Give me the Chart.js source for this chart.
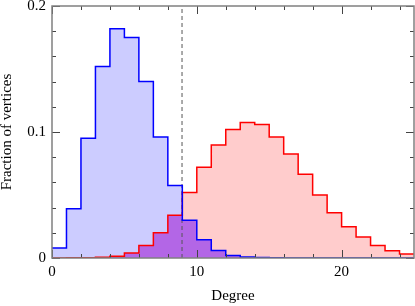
<!DOCTYPE html>
<html>
<head>
<meta charset="utf-8">
<script src="https://cdn.jsdelivr.net/npm/chart.js@4/dist/chart.umd.min.js"></script>
<style>
html,body{margin:0;padding:0;background:#fff;}
#wrap{width:415px;height:306px;}
</style>
</head>
<body>
<div id="wrap"><canvas id="c" width="415" height="306"></canvas></div>
<script>
// bin left edges 0..24 (width 1)
const binEdges = [0,1,2,3,4,5,6,7,8,9,10,11,12,13,14,15,16,17,18,19,20,21,22,23,24,25];
const blueValues = [0.008,0.039,0.095,0.152,0.182,0.175,0.140,0.096,0.0576,0.030,0.0145,0.006,0.002,0.0008,0.0003,0.0001,0,0,0,0,0,0,0,0,0];
const redValues  = [0,0.0001,0.0002,0.0005,0.0013,0.004,0.010,0.020,0.034,0.052,0.072,0.0897,0.102,0.1076,0.106,0.096,0.0825,0.0664,0.050,0.036,0.0248,0.0167,0.010,0.0058,0.0032];
const meanDegree = 8.98;
const xTickLabels = [0,10,20];
const yTickLabels = [0,0.1,0.2];
const xMinorStep = 2, yMinorStep = 0.02;

function toSteps(vals){
  const pts = vals.map((v,i)=>({x:binEdges[i], y:v}));
  pts.push({x:binEdges[vals.length], y:vals[vals.length-1]});
  return pts;
}
const overlapValues = blueValues.map((v,i)=>Math.min(v, redValues[i]));

const FONT = "'Liberation Serif','Times New Roman',serif";

const frameTicks = {
  id:'frameTicks',
  afterDatasetsDraw(chart){
    const {ctx, chartArea:a, scales:{x,y}} = chart;
    ctx.save();
    ctx.strokeStyle = '#444';
    ctx.lineWidth = 1;
    ctx.beginPath();
    for(let v=0; v<=25+1e-9; v+=xMinorStep){
      const px = Math.round(x.getPixelForValue(v))+0.5;
      const L = 4;
      ctx.moveTo(px,a.bottom); ctx.lineTo(px,a.bottom-L);
      ctx.moveTo(px,a.top); ctx.lineTo(px,a.top+L);
    }
    xTickLabels.forEach(v=>{
      const px = Math.round(x.getPixelForValue(v))+0.5;
      ctx.moveTo(px,a.bottom); ctx.lineTo(px,a.bottom-8);
      ctx.moveTo(px,a.top); ctx.lineTo(px,a.top+8);
    });
    for(let k=0; k<=10; k++){
      const v = k*yMinorStep;
      const py = Math.round(y.getPixelForValue(v))+0.5;
      ctx.moveTo(a.left,py); ctx.lineTo(a.left+4,py);
      ctx.moveTo(a.right,py); ctx.lineTo(a.right-4,py);
    }
    yTickLabels.forEach(v=>{
      const py = Math.round(y.getPixelForValue(v))+0.5;
      ctx.moveTo(a.left,py); ctx.lineTo(a.left+8,py);
      ctx.moveTo(a.right,py); ctx.lineTo(a.right-8,py);
    });
    ctx.stroke();
    ctx.strokeStyle = '#808080';
    ctx.lineWidth = 1.5;
    ctx.strokeRect(a.left, a.top, a.right-a.left, a.bottom-a.top);
    ctx.restore();
  }
};

new Chart(document.getElementById('c'), {
  type:'line',
  data:{
    datasets:[
      {data:toSteps(blueValues), stepped:'before', fill:'origin', backgroundColor:'#ccccff', borderWidth:0, pointRadius:0, order:6},
      {data:toSteps(redValues), stepped:'before', fill:'origin', backgroundColor:'#ffcccc', borderWidth:0, pointRadius:0, order:5},
      {data:toSteps(overlapValues), stepped:'before', fill:'origin', backgroundColor:'#b366e6', borderWidth:0, pointRadius:0, order:4},
      {data:[{x:meanDegree,y:0},{x:meanDegree,y:0.2}], borderColor:'#555', borderWidth:1, borderDash:[4,3], pointRadius:0, fill:false, order:3},
      {data:toSteps(redValues), stepped:'before', fill:false, borderColor:'#ff0000', borderWidth:1.5, pointRadius:0, order:2},
      {data:toSteps(blueValues), stepped:'before', fill:false, borderColor:'#0000ff', borderWidth:1.5, pointRadius:0, order:1}
    ]
  },
  options:{
    responsive:false,
    animation:false,
    events:[],
    layout:{padding:{top:6,right:1,left:0,bottom:0}},
    plugins:{legend:{display:false}, tooltip:{enabled:false}},
    scales:{
      x:{
        type:'linear', min:0, max:25,
        grid:{display:false, drawTicks:false}, border:{display:false},
        afterBuildTicks(s){ s.ticks = xTickLabels.map(v=>({value:v})); },
        afterFit(s){ s.height = 48; s.paddingLeft = 0; s.paddingRight = 0; },
        ticks:{color:'#000', font:{family:FONT, size:15}, padding:5, maxRotation:0, callback:(v)=>String(v)},
        title:{display:true, text:'Degree', color:'#000', font:{family:FONT, size:15, lineHeight:1}, padding:{top:0,bottom:2}}
      },
      y:{
        type:'linear', min:0, max:0.2,
        grid:{display:false, drawTicks:false}, border:{display:false},
        afterBuildTicks(s){ s.ticks = yTickLabels.map(v=>({value:v})); },
        afterFit(s){ s.width = 52; s.paddingTop = 0; s.paddingBottom = 0; },
        ticks:{color:'#000', font:{family:FONT, size:15}, padding:6, callback:(v)=>String(+v.toFixed(2))},
        title:{display:true, text:'Fraction of vertices', color:'#000', font:{family:FONT, size:15, lineHeight:1}, padding:{top:0,bottom:0}}
      }
    }
  },
  plugins:[frameTicks]
});
</script>
</body>
</html>
